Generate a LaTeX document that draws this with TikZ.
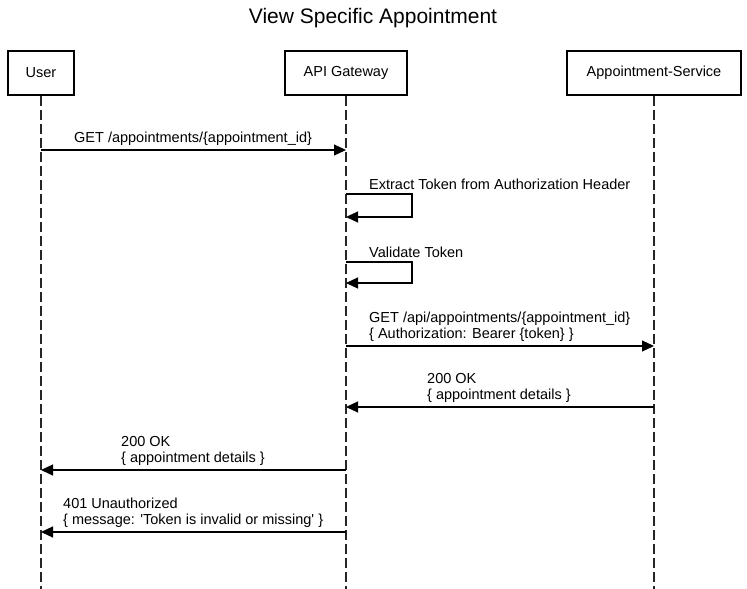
\documentclass[tikz,border=0pt]{standalone}
\usepackage{fontspec}
\setmainfont{Liberation Sans}
\usetikzlibrary{arrows.meta}
\begin{document}
\begin{tikzpicture}[x=1pt,y=-1pt,
  actor/.style={draw,line width=2pt,fill=white,minimum height=44pt,font=\fontsize{14.5}{16}\selectfont,inner sep=0pt},
  life/.style={line width=1.2pt,dash pattern=on 10pt off 4pt,color=black!85},
  msg/.style={line width=1.1pt,-{Triangle[length=12pt,width=11pt]}},
  lbl/.style={font=\fontsize{14.5}{16}\selectfont,align=left,anchor=south west,inner sep=0pt}]
\useasboundingbox (0,0) rectangle (747,589);
\node[font=\fontsize{21}{24}\selectfont] (title) at (373,18) {View Specific Appointment};
% lifelines
\coordinate (uTop) at (41,96); \coordinate (uBot) at (41,589);
\coordinate (gTop) at (346,96); \coordinate (gBot) at (346,589);
\coordinate (sTop) at (654,96); \coordinate (sBot) at (654,589);
\draw[life] (uTop) -- (uBot);
\draw[life] (gTop) -- (gBot);
\draw[life] (sTop) -- (sBot);
\node[actor,minimum width=66pt] (user) at (41,73) {User};
\node[actor,minimum width=122pt] (gw) at (346,73) {API Gateway};
\node[actor,minimum width=174pt] (svc) at (654,73) {Appointment-Service};
% message anchors
\coordinate (u1) at (41,150); \coordinate (g1) at (346,150);
\draw[msg] (u1) -- (g1);
\node[lbl] (l1) at (74,146) {GET /appointments/\{appointment\_id\}};
% self 1
\coordinate (g2a) at (346,194); \coordinate (g2b) at (346,217);
\coordinate (r2a) at (412,194); \coordinate (r2b) at (412,217);
\draw[msg] (g2a) -- (r2a) -- (r2b) -- (g2b);
\node[lbl] (l2) at (369,190) {Extract Token from Authorization Header};
% self 2
\coordinate (g3a) at (346,262); \coordinate (g3b) at (346,283);
\coordinate (r3a) at (412,262); \coordinate (r3b) at (412,283);
\draw[msg] (g3a) -- (r3a) -- (r3b) -- (g3b);
\node[lbl] (l3) at (369,258) {Validate Token};
% gw -> svc
\coordinate (g4) at (346,346); \coordinate (s4) at (654,346);
\draw[msg] (g4) -- (s4);
\node[lbl] (l4) at (369,342) {GET /api/appointments/\{appointment\_id\}\\\{ Authorization: Bearer \{token\} \}};
% svc -> gw
\coordinate (s5) at (654,407); \coordinate (g5) at (346,407);
\draw[msg] (s5) -- (g5);
\node[lbl] (l5) at (427,403) {200 OK\\\{ appointment details \}};
% gw -> user
\coordinate (g6) at (346,470); \coordinate (u6) at (41,470);
\draw[msg] (g6) -- (u6);
\node[lbl] (l6) at (121,466) {200 OK\\\{ appointment details \}};
% 401
\coordinate (g7) at (346,532); \coordinate (u7) at (41,532);
\draw[msg] (g7) -- (u7);
\node[lbl] (l7) at (63,528) {401 Unauthorized\\\{ message: \textquotesingle Token is invalid or missing\textquotesingle\ \}};
\end{tikzpicture}
\end{document}
